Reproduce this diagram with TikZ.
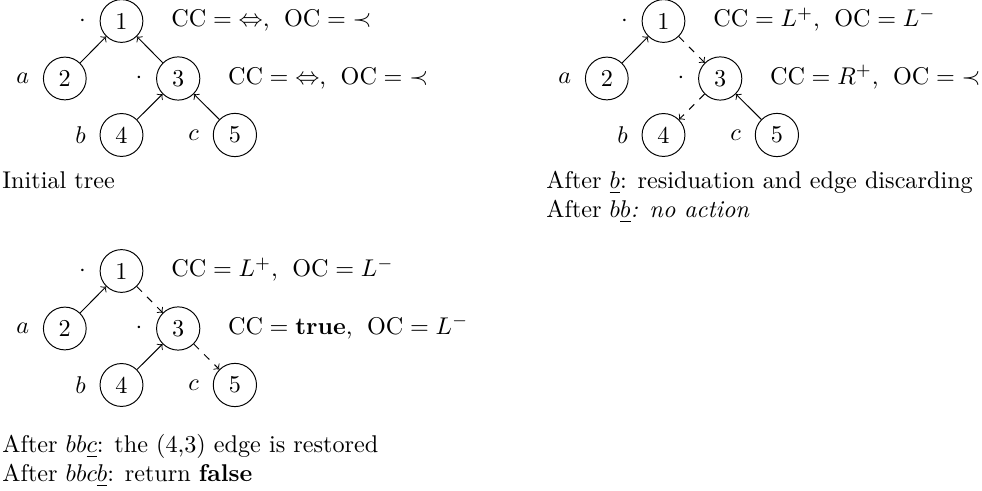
\documentclass[tikz,border=0pt]{standalone}
\usetikzlibrary{positioning}
\newcommand{\ccsep}{,\hskip 6pt}
\begin{document}
\begin{tikzpicture}[x=0.41322pt,y=-0.41322pt,
  tn/.style={draw,circle,inner sep=3.33pt,minimum size=0pt},
  lb/.style={label distance=2.2pt},
  cctext/.style={inner sep=0pt,anchor=base west},
  captext/.style={inner sep=0pt,anchor=base west},
  sedge/.style={->},
  dedge/.style={->,dashed}]
\useasboundingbox (0,0) rectangle (982,491);

% ---------- Tree 1 (initial) ----------
\begin{scope}[shift={(0,0)}]
\node[tn,label={[lb]left:$\cdot$}] (t1n1) at (121.5,21) {1};
\node[tn,label={[lb]left:$a$}] (t1n2) at (64.8,78.5) {2};
\node[tn,label={[lb]left:$\cdot$}] (t1n3) at (178.2,78.5) {3};
\node[tn,label={[lb]left:$b$}] (t1n4) at (121.5,135) {4};
\node[tn,label={[lb]left:$c$}] (t1n5) at (234.9,135) {5};
\end{scope}
\node[cctext] (t1c1) at ([xshift=20.4pt,yshift=-2.4pt]t1n1.center) {$\mathrm{CC}={\Leftrightarrow}$\ccsep$\mathrm{OC}={\prec}$};
\node[cctext] (t1c3) at ([xshift=20.4pt,yshift=-2.4pt]t1n3.center) {$\mathrm{CC}={\Leftrightarrow}$\ccsep$\mathrm{OC}={\prec}$};
\draw[sedge] (t1n2) -- (t1n1);
\draw[sedge] (t1n3) -- (t1n1);
\draw[sedge] (t1n4) -- (t1n3);
\draw[sedge] (t1n5) -- (t1n3);
\node[captext] (cap1) at (2,189) {Initial tree};

% ---------- Tree 2 ----------
\begin{scope}[shift={(542,0)}]
\node[tn,label={[lb]left:$\cdot$}] (t2n1) at (121.5,21) {1};
\node[tn,label={[lb]left:$a$}] (t2n2) at (64.8,78.5) {2};
\node[tn,label={[lb]left:$\cdot$}] (t2n3) at (178.2,78.5) {3};
\node[tn,label={[lb]left:$b$}] (t2n4) at (121.5,135) {4};
\node[tn,label={[lb]left:$c$}] (t2n5) at (234.9,135) {5};
\end{scope}
\node[cctext] (t2c1) at ([xshift=20.4pt,yshift=-2.4pt]t2n1.center) {$\mathrm{CC}=L^{+}$\ccsep$\mathrm{OC}=L^{-}$};
\node[cctext] (t2c3) at ([xshift=20.4pt,yshift=-2.4pt]t2n3.center) {$\mathrm{CC}=R^{+}$\ccsep$\mathrm{OC}={\prec}$};
\draw[sedge] (t2n2) -- (t2n1);
\draw[dedge] (t2n1) -- (t2n3);
\draw[dedge] (t2n3) -- (t2n4);
\draw[sedge] (t2n5) -- (t2n3);
\node[captext] (cap2a) at (546,189) {After $\underline{b}$: residuation and edge discarding};
\node[captext] (cap2b) at (546,218) {After $b\underline{b}$\textit{: no action}};

% ---------- Tree 3 ----------
\begin{scope}[shift={(0,250)}]
\node[tn,label={[lb]left:$\cdot$}] (t3n1) at (121.5,21) {1};
\node[tn,label={[lb]left:$a$}] (t3n2) at (64.8,78.5) {2};
\node[tn,label={[lb]left:$\cdot$}] (t3n3) at (178.2,78.5) {3};
\node[tn,label={[lb]left:$b$}] (t3n4) at (121.5,135) {4};
\node[tn,label={[lb]left:$c$}] (t3n5) at (234.9,135) {5};
\end{scope}
\node[cctext] (t3c1) at ([xshift=20.4pt,yshift=-2.4pt]t3n1.center) {$\mathrm{CC}=L^{+}$\ccsep$\mathrm{OC}=L^{-}$};
\node[cctext] (t3c3) at ([xshift=20.4pt,yshift=-2.4pt]t3n3.center) {$\mathrm{CC}=\textbf{true}$\ccsep$\mathrm{OC}=L^{-}$};
\draw[sedge] (t3n2) -- (t3n1);
\draw[dedge] (t3n1) -- (t3n3);
\draw[sedge] (t3n4) -- (t3n3);
\draw[dedge] (t3n3) -- (t3n5);
\node[captext] (cap3a) at (2,453) {After $bb\underline{c}$: the (4,3) edge is restored};
\node[captext] (cap3b) at (2,482) {After $bbc\underline{b}$: return \textbf{false}};
\end{tikzpicture}
\end{document}
